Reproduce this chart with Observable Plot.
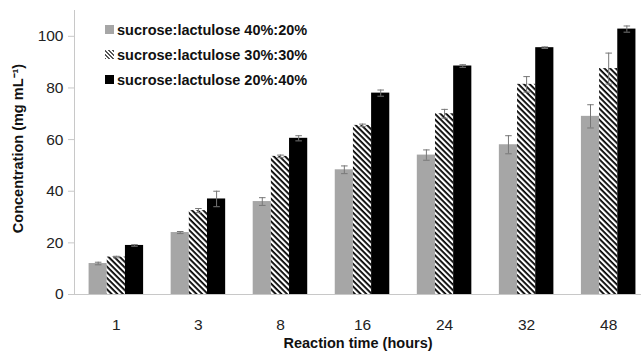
<!DOCTYPE html>
<html><head><meta charset="utf-8">
<script src="https://cdn.jsdelivr.net/npm/d3@7"></script>
<script src="https://cdn.jsdelivr.net/npm/@observablehq/plot@0.6"></script>
<style>
body{margin:0;background:#fff}
#wrap{position:relative;width:641px;height:353px;font-family:"Liberation Sans",Arial,sans-serif}
.legend{position:absolute;left:105px;top:17px;font-weight:bold;font-size:14.5px;color:#111}
.row{display:flex;align-items:center;height:25px}
.sw{width:9px;height:9px;margin-right:3px;flex:none}
</style></head>
<body><div id="wrap"></div>
<script>
const times = ["1", "3", "8", "16", "24", "32", "48"];
const seriesNames = ["sucrose:lactulose 40%:20%", "sucrose:lactulose 30%:30%", "sucrose:lactulose 20%:40%"];
const values4020 = [12, 24, 36, 48.3, 54, 58, 69];
const values3030 = [14.5, 32.5, 53.5, 65.5, 70, 81.4, 87.5];
const values2040 = [19, 37, 60.5, 78, 88.5, 95.6, 102.8];
const err4020 = [0.5, 0.4, 1.5, 1.5, 2, 3.5, 4.5];
const err3030 = [0.3, 0.8, 0.5, 0.5, 1.7, 3, 6];
const err2040 = [0.3, 3, 1, 1.2, 0.5, 0.3, 1.2];
const yTicks = [0, 20, 40, 60, 80, 100];

const fills = ["#a6a6a6", "url(#hatch)", "#000000"];
const allValues = [values4020, values3030, values2040];
const allErr = [err4020, err3030, err2040];
const barW = 0.2215;   // bar width in group units
const capW = 0.04;

const data = [];
times.forEach((t, i) => {
  seriesNames.forEach((s, j) => {
    const xc = i + (j - 1) * barW;
    data.push({time: t, series: s, value: allValues[j][i], err: allErr[j][i],
      x1: xc - barW / 2, x2: xc + barW / 2, xc, fill: fills[j]});
  });
});

const ns = "http://www.w3.org/2000/svg";
function hatchDefs() {
  const g = document.createElementNS(ns, "g");
  g.innerHTML = '<defs><pattern id="hatch" patternUnits="userSpaceOnUse" width="4" height="4" patternTransform="rotate(45)"><rect width="4" height="4" fill="#fff"/><rect width="4" height="1.8" fill="#000"/></pattern></defs>';
  return g;
}

const chart = Plot.plot({
  width: 641, height: 353,
  marginLeft: 74, marginRight: 0, marginTop: 10, marginBottom: 59,
  style: {fontFamily: '"Liberation Sans", Arial, sans-serif', background: "#fff", color: "#222"},
  x: {type: "linear", domain: [-0.51, 6.40], axis: null},
  y: {domain: [0, 110], axis: null},
  color: {type: "identity"},
  marks: [
    hatchDefs,
    Plot.ruleY([0], {stroke: "#c8c8c8", strokeWidth: 1}),
    Plot.ruleX([-0.51], {y1: 0, y2: 110, stroke: "#c8c8c8", strokeWidth: 1}),
    Plot.axisY({ticks: yTicks, tickSize: 6, tickPadding: 5, stroke: "#c8c8c8", fontSize: 15.5, fill: "#222", label: null}),
    Plot.axisX({ticks: d3.range(times.length), tickFormat: i => times[i], tickSize: 0, tickPadding: 24, fontSize: 15.5, fill: "#222", label: null}),
    Plot.rectY(data, {x1: "x1", x2: "x2", y1: 0, y2: "value", fill: "fill"}),
    Plot.ruleX(data, {x: "xc", y1: d => d.value - d.err, y2: d => d.value + d.err, stroke: "#777", strokeWidth: 1}),
    Plot.link(data, {x1: d => d.xc - capW, x2: d => d.xc + capW, y1: d => d.value + d.err, y2: d => d.value + d.err, stroke: "#777", strokeWidth: 1}),
    Plot.link(data, {x1: d => d.xc - capW, x2: d => d.xc + capW, y1: d => d.value - d.err, y2: d => d.value - d.err, stroke: "#777", strokeWidth: 1}),
    Plot.text(["Reaction time (hours)"], {frameAnchor: "bottom", textAnchor: "middle", dy: 53, fontWeight: "bold", fontSize: 14.5, fill: "#111"}),
    Plot.text(["Concentration (mg mL\u207B\u00B9)"], {frameAnchor: "left", textAnchor: "middle", dx: -56, dy: -4, rotate: -90, fontWeight: "bold", fontSize: 14.5, fill: "#111"})
  ]
});

const wrap = document.getElementById("wrap");
wrap.appendChild(chart);
const legend = document.createElement("div");
legend.className = "legend";
const swatchCss = [
  "background:#a6a6a6",
  "background:repeating-linear-gradient(45deg,#555 0 1.1px,#fff 1.1px 2.8px)",
  "background:#000"
];
seriesNames.forEach((s, j) => {
  const row = document.createElement("div");
  row.className = "row";
  const sw = document.createElement("span");
  sw.className = "sw";
  sw.style.cssText = swatchCss[j];
  const tx = document.createElement("span");
  tx.textContent = s;
  row.appendChild(sw); row.appendChild(tx);
  legend.appendChild(row);
});
wrap.appendChild(legend);
</script>
</body></html>
